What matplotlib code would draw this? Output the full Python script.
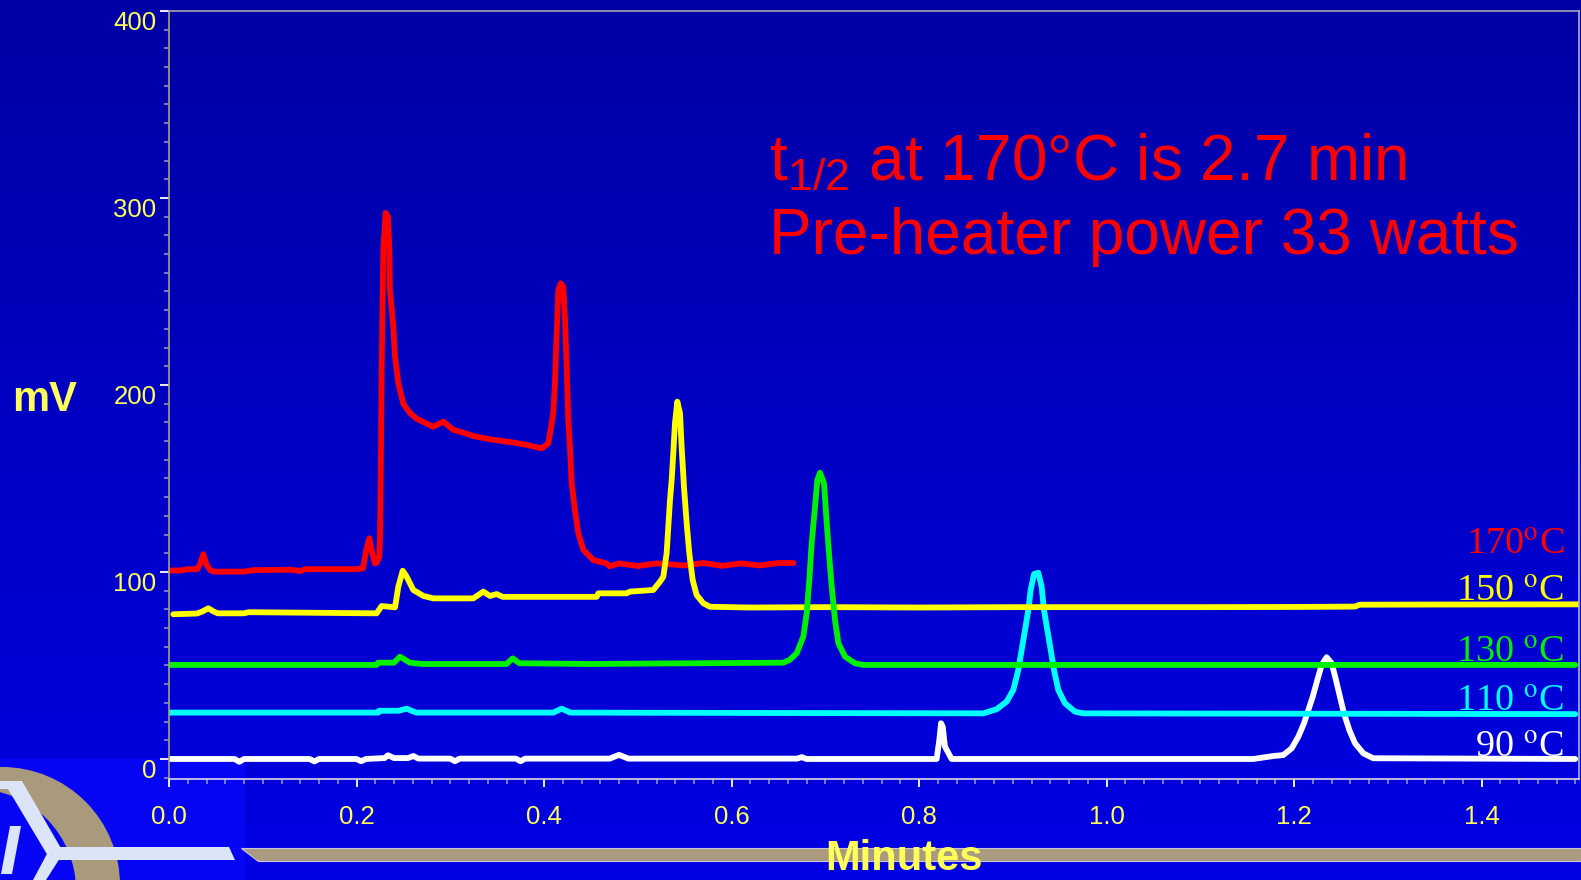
import numpy as np
import matplotlib
matplotlib.use("Agg")
import matplotlib.pyplot as plt
from matplotlib.patches import Polygon, Circle, Rectangle
from matplotlib.ticker import MultipleLocator

plt.rcParams['font.family'] = ['Liberation Sans', 'DejaVu Sans']
plt.rcParams['mathtext.fontset'] = 'custom'
plt.rcParams['mathtext.rm'] = 'Liberation Sans'
plt.rcParams['mathtext.it'] = 'Liberation Sans:italic'
plt.rcParams['mathtext.bf'] = 'Liberation Sans:bold'

# 讀圖取得的資料點 (分鐘, mV)
t_170 = [0.000, 0.012, 0.020, 0.030, 0.033, 0.0366, 0.040, 0.044, 0.048, 0.080, 0.090, 0.130,
         0.140, 0.145, 0.200, 0.207, 0.2105, 0.2137, 0.2165, 0.2197, 0.2215, 0.2243, 0.2252,
         0.2262, 0.2268, 0.2286, 0.2311, 0.2335, 0.2350, 0.2357, 0.2393, 0.2411, 0.2446,
         0.2499, 0.2570, 0.2642, 0.2740, 0.2819, 0.2926, 0.3033, 0.3140, 0.3246, 0.3400,
         0.3531, 0.3680, 0.3815, 0.3975, 0.4046, 0.4082, 0.4100, 0.4117, 0.4135, 0.4153,
         0.4178, 0.4206, 0.4224, 0.4242, 0.4259, 0.4277, 0.4295, 0.4330, 0.4366, 0.4420,
         0.4526, 0.4668, 0.4700, 0.4800, 0.5000, 0.5200, 0.5500, 0.5700, 0.5900, 0.6100,
         0.6300, 0.6500, 0.6660]
mv_170 = [100.8, 100.8, 101.5, 101.5, 104.0, 109.5, 104.0, 101.0, 100.2, 100.2, 101.0, 101.2,
          100.5, 101.5, 101.5, 102.0, 112.0, 118.0, 111.0, 104.6, 105.0, 108.0, 120.0,
          170.0, 206.0, 272.0, 292.0, 290.0, 274.0, 251.0, 231.0, 215.0, 201.0,
          190.0, 185.0, 182.0, 179.5, 177.7, 180.4, 176.0, 174.5, 172.7, 171.2,
          170.2, 169.2, 168.0, 166.1, 168.8, 179.5, 185.7, 201.0, 227.6, 250.8,
          254.4, 252.6, 234.8, 209.8, 181.3, 167.0, 147.4, 133.0, 120.7, 111.8,
          106.4, 104.6, 103.0, 104.6, 103.2, 104.6, 103.5, 104.8, 103.3, 104.6,
          103.5, 104.8, 104.8]

t_150 = [0.0046, 0.030, 0.036, 0.042, 0.047, 0.052, 0.080, 0.085, 0.2215, 0.2268, 0.2411,
         0.2446, 0.2493, 0.2535, 0.2606, 0.2713, 0.2819, 0.3246, 0.3353, 0.3424, 0.3495,
         0.3560, 0.4562, 0.4580, 0.4880, 0.4917, 0.5166, 0.5237, 0.5273, 0.5308, 0.5326,
         0.5344, 0.5362, 0.5380, 0.5397, 0.5422, 0.5451, 0.5468, 0.5493, 0.5522, 0.5550,
         0.5586, 0.5628, 0.5699, 0.5771, 0.6200, 0.7000, 0.8000, 0.9000, 1.0000, 1.1000,
         1.2000, 1.2650, 1.2700, 1.3500, 1.5040]
mv_150 = [77.4, 77.8, 79.0, 80.6, 79.0, 77.9, 77.9, 78.5, 77.9, 81.8, 81.1,
          92.1, 100.7, 97.5, 90.4, 87.2, 85.9, 85.9, 89.5, 87.2, 88.2,
          86.7, 86.7, 88.6, 88.6, 89.5, 90.4, 94.8, 97.5, 110.0, 124.2,
          138.5, 149.2, 164.3, 179.5, 191.1, 184.9, 167.0, 145.6, 126.0, 110.0,
          95.7, 87.7, 83.3, 81.4, 81.0, 81.2, 81.0, 81.2, 81.2, 81.2,
          81.3, 81.5, 82.5, 82.6, 82.7]

t_130 = [0.000, 0.2215, 0.2230, 0.2400, 0.2464, 0.2570, 0.2700, 0.3600, 0.3666, 0.3737,
         0.4500, 0.5000, 0.6553, 0.6620, 0.6695, 0.6766, 0.6802, 0.6830, 0.6855, 0.6891,
         0.6916, 0.6944, 0.6987, 0.7016, 0.7043, 0.7069, 0.7104, 0.7140, 0.7211, 0.7317,
         0.7406, 1.5000]
mv_130 = [50.3, 50.3, 51.5, 51.5, 54.7, 51.5, 50.8, 50.8, 53.8, 51.2,
          50.8, 51.0, 51.5, 53.0, 56.5, 65.4, 77.9, 95.7, 115.3, 134.9,
          149.2, 153.1, 147.4, 126.0, 108.2, 92.1, 74.3, 61.9, 54.7, 51.2,
          50.3, 50.3]

t_110 = [0.000, 0.2233, 0.2240, 0.2450, 0.2535, 0.2600, 0.2642, 0.4100, 0.4188, 0.4280,
         0.8686, 0.8828, 0.8935, 0.9006, 0.9059, 0.9095, 0.9131, 0.9166, 0.9191, 0.9227,
         0.9273, 0.9308, 0.9333, 0.9369, 0.9405, 0.9440, 0.9486, 0.9557, 0.9664, 0.9753,
         1.5000]
mv_110 = [24.8, 24.8, 25.8, 25.8, 26.9, 25.5, 24.8, 24.8, 26.9, 24.8,
          24.4, 26.6, 30.7, 36.9, 47.6, 58.3, 69.0, 79.7, 90.4, 98.9,
          99.6, 92.1, 79.7, 69.0, 58.3, 47.6, 36.9, 29.8, 25.3, 24.4,
          24.0]

t_90 = [0.000, 0.070, 0.075, 0.080, 0.150, 0.155, 0.160, 0.200, 0.205, 0.210, 0.2300,
        0.2336, 0.2400, 0.2550, 0.2606, 0.2660, 0.3000, 0.3050, 0.3100, 0.3700, 0.3750,
        0.3800, 0.4700, 0.4800, 0.4900, 0.6700, 0.6750, 0.6800, 0.8188, 0.8217, 0.8235,
        0.8253, 0.8277, 0.8348, 1.1566, 1.1780, 1.1886, 1.1975, 1.2046, 1.2107, 1.2153,
        1.2200, 1.2249, 1.2295, 1.2348, 1.2402, 1.2448, 1.2490, 1.2533, 1.2590, 1.2651,
        1.2740, 1.2846, 1.5000]
mv_90 = [0.0, 0.0, -1.5, 0.0, 0.0, -1.3, 0.0, 0.0, -1.2, 0.0, 0.5,
         2.0, 0.5, 0.5, 1.6, 0.2, 0.2, -1.2, 0.2, 0.2, -1.2,
         0.2, 0.2, 2.2, 0.2, 0.2, 1.0, 0.0, 0.0, 10.2, 19.1,
         17.3, 6.6, 0.0, 0.0, 1.6, 2.1, 5.7, 11.9, 19.1, 26.2,
         33.3, 42.2, 50.3, 54.4, 51.2, 42.2, 33.3, 24.4, 15.5, 8.4,
         3.0, 0.4, 0.0]

series_labels = ['170$^{\\mathrm{o}}$C', '150 $^{\\mathrm{o}}$C', '130 $^{\\mathrm{o}}$C',
                 '110 $^{\\mathrm{o}}$C', '90 $^{\\mathrm{o}}$C']
series_colors = ['#FF0000', '#FFFF00', '#00F000', '#00FFFF', '#FFFFFF']

W, H = 1581, 880
fig = plt.figure(figsize=(W / 100, H / 100), dpi=100)

# 背景 (像素座標)
bg = fig.add_axes([0, 0, 1, 1], zorder=-1)
bg.set_xlim(0, W)
bg.set_ylim(H, 0)
bg.axis('off')
grad = np.linspace(0, 1, 256).reshape(-1, 1)
cmap = matplotlib.colors.LinearSegmentedColormap.from_list('bg', ['#0000A4', '#0000E4'])
bg.imshow(grad, cmap=cmap, aspect='auto', extent=[0, W, H, 0])
bg.add_patch(Rectangle((0, 759), 245, 121, color='#0606F4', lw=0))
bg.add_patch(Circle((2, 885), 118, color='#A99A7C', lw=0))
bg.add_patch(Circle((-25, 890), 101, color='#0606F4', lw=0))
logo_white = '#DCE5F7'
bg.add_patch(Polygon([(0, 781), (22, 781), (62, 850), (48, 856), (8, 789), (0, 789)], color=logo_white, lw=0))
bg.add_patch(Polygon([(48, 852), (60, 858), (46, 880), (33, 880)], color=logo_white, lw=0))
bg.add_patch(Polygon([(50, 847), (229, 847), (235, 860), (55, 860)], color=logo_white, lw=0))
bg.add_patch(Polygon([(10, 826), (21, 826), (12, 874), (1, 874)], color=logo_white, lw=0))
bg.add_patch(Polygon([(241, 848), (W, 848), (W, 861), (258, 861)], facecolor='#A99A80',
                     edgecolor='#C8C4DC', lw=0.8))

ax = fig.add_axes([169 / W, 1 - 779 / H, 1410 / W, 768 / H])
ax.set_facecolor('none')

curves = [(t_90, mv_90), (t_110, mv_110), (t_170, mv_170), (t_150, mv_150), (t_130, mv_130)]
curve_colors = [series_colors[4], series_colors[3], series_colors[0], series_colors[1], series_colors[2]]
for (t, mv), c in zip(curves, curve_colors):
    ax.plot(t, mv, color=c, lw=4.2, solid_joinstyle='round', solid_capstyle='round')

ax.set_xlim(0, 1.504)
ax.set_ylim(-10.7, 400)
ax.xaxis.set_major_locator(MultipleLocator(0.2))
ax.xaxis.set_minor_locator(MultipleLocator(0.02))
ax.yaxis.set_major_locator(MultipleLocator(100))
ax.yaxis.set_minor_locator(MultipleLocator(10))
ax.xaxis.set_major_formatter(matplotlib.ticker.FormatStrFormatter('%.1f'))

lab_yellow = '#FFFF5A'
ax.tick_params(which='major', color='white', width=1.3, labelcolor=lab_yellow, labelsize=18.5)
ax.tick_params(axis='y', which='major', length=6.5, pad=2.5)
ax.tick_params(axis='x', which='major', length=6, pad=13)
ax.tick_params(which='minor', color='#9A9AC0', width=1.1, length=3.5)
plt.setp(ax.get_yticklabels(), va='top')

ax.spines['left'].set_color('#A8A078')
ax.spines['top'].set_color('#A4A4B4')
ax.spines['bottom'].set_color('#D8D8E4')
ax.spines['right'].set_color('#B0B0C8')
for s in ax.spines.values():
    s.set_linewidth(1.2)

# 文字
fig.text(45 / W, 1 - 411 / H, 'mV', ha='center', va='baseline', fontsize=30,
         fontweight='bold', color=lab_yellow)
fig.text(904 / W, 1 - 879 / H, 'Minutes', ha='center', va='bottom', fontsize=30,
         fontweight='bold', color=lab_yellow)
fig.text(769 / W, 1 - 180 / H, 't$_{\\mathrm{1/2}}$ at 170°C is 2.7 min', ha='left',
         va='baseline', fontsize=46, color='#FF0000')
fig.text(769 / W, 1 - 254 / H, 'Pre-heater power 33 watts', ha='left',
         va='baseline', fontsize=46, color='#FF0000')

label_y = [554, 601, 662, 711, 757]
for lab, c, yy in zip(series_labels, series_colors, label_y):
    fig.text(1564 / W, 1 - yy / H, lab, ha='right', va='baseline', fontsize=27.5,
             family='Liberation Serif', math_fontfamily='stix', color=c)

fig.savefig('out.png', dpi=100, facecolor=fig.get_facecolor())
